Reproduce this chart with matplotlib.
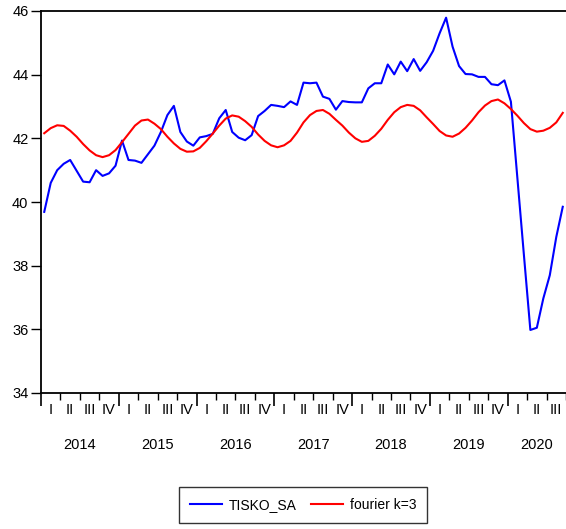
import matplotlib
matplotlib.use('Agg')
import matplotlib.pyplot as plt
import matplotlib.transforms as mtransforms
import numpy as np

# monthly data 2014M01 - 2020M09
tisko_sa = [39.69, 40.60, 41.00, 41.20, 41.32, 40.98, 40.64, 40.62, 41.00, 40.82, 40.90, 41.14,
            41.93, 41.32, 41.30, 41.23, 41.50, 41.77, 42.20, 42.73, 43.02, 42.20, 41.90, 41.77,
            42.03, 42.07, 42.14, 42.63, 42.89, 42.20, 42.02, 41.94, 42.10, 42.70, 42.86, 43.05,
            43.02, 42.98, 43.16, 43.05, 43.75, 43.73, 43.75, 43.31, 43.24, 42.90, 43.17, 43.14,
            43.13, 43.13, 43.57, 43.73, 43.73, 44.32, 44.01, 44.41, 44.11, 44.49, 44.12, 44.39,
            44.75, 45.30, 45.79, 44.88, 44.27, 44.02, 44.01, 43.93, 43.93, 43.70, 43.67, 43.82,
            43.15, 40.75, 38.35, 35.98, 36.05, 36.97, 37.70, 38.90, 39.85]
fourier_k3 = [42.16, 42.32, 42.41, 42.39, 42.24, 42.05, 41.82, 41.62, 41.47, 41.41, 41.47, 41.63,
              41.88, 42.14, 42.40, 42.56, 42.59, 42.46, 42.29, 42.05, 41.84, 41.67, 41.58, 41.59,
              41.70, 41.91, 42.15, 42.40, 42.62, 42.72, 42.68, 42.54, 42.36, 42.12, 41.92, 41.78,
              41.72, 41.78, 41.92, 42.18, 42.50, 42.73, 42.86, 42.89, 42.77, 42.58, 42.40, 42.18,
              42.00, 41.89, 41.92, 42.08, 42.30, 42.58, 42.82, 42.98, 43.05, 43.02, 42.88, 42.66,
              42.45, 42.23, 42.09, 42.05, 42.15, 42.33, 42.56, 42.82, 43.03, 43.17, 43.22, 43.10,
              42.92, 42.71, 42.48, 42.29, 42.21, 42.24, 42.33, 42.50, 42.80]
years = [2014, 2015, 2016, 2017, 2018, 2019, 2020]
quarter_labels = ['I', 'II', 'III', 'IV']
y_ticks = [34, 36, 38, 40, 42, 44, 46]

plt.rcParams['font.family'] = ['Liberation Sans', 'DejaVu Sans']
W, H = 566, 529
fig = plt.figure(figsize=(W / 100, H / 100), dpi=100)
ax = fig.add_axes([41 / W, 1 - 393 / H, (W - 41) / W, (393 - 11) / H])

n = len(tisko_sa)
x = np.arange(n) + 0.5
l1, = ax.plot(x, tisko_sa, color='#0000ff', lw=1.5)
l2, = ax.plot(x, fourier_k3, color='#ff0000', lw=1.5)

ax.set_xlim(0, n)
ax.set_ylim(34, 46)
ax.set_yticks(y_ticks)
ax.tick_params(axis='y', direction='out', length=7, width=1, labelsize=10.5, pad=2)

# quarter / year ticks
n_q = n // 3
ax.set_xticks([12 * k for k in range(len(years))])
ax.set_xticks([3 * q for q in range(n_q + 1) if q % 4 != 0], minor=True)
ax.tick_params(axis='x', which='major', direction='out', length=9, width=1.2, labelbottom=False)
ax.tick_params(axis='x', which='minor', direction='out', length=5, width=1, labelbottom=False)

trans = mtransforms.blended_transform_factory(ax.transData, fig.transFigure)
for q in range(n_q):
    ax.text(3 * q + 1.5, 1 - 410 / H, quarter_labels[q % 4], transform=trans,
            ha='center', va='center', fontsize=10.5)
for k, yr in enumerate(years):
    start = 12 * k
    end = min(12 * (k + 1), n)
    ax.text((start + end) / 2, 1 - 445 / H, str(yr), transform=trans,
            ha='center', va='center', fontsize=10.5)

for side in ['left', 'bottom', 'top']:
    ax.spines[side].set_linewidth(1.3)
ax.spines['right'].set_visible(False)

leg = fig.legend([l1, l2], ['TISKO_SA', 'fourier k=3'], loc='center',
                 bbox_to_anchor=(303 / W, 1 - 505 / H), ncol=2, fontsize=10,
                 frameon=True, fancybox=False, edgecolor='black', handlelength=2.3,
                 handletextpad=0.5, columnspacing=1.0, borderpad=0.8)
leg.get_frame().set_linewidth(1.0)

fig.savefig('out.png', dpi=100)
